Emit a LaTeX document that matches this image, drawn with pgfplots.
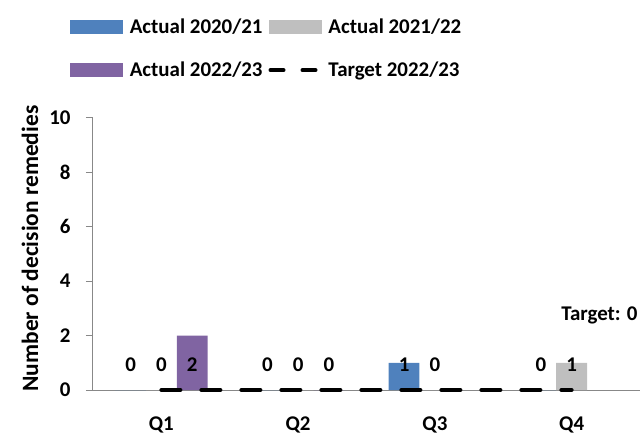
\documentclass[border=0pt]{standalone}
\usepackage{pgfplots}
\pgfplotsset{compat=1.18}
\usepackage{fontspec}
\setmainfont{Carlito}
\definecolor{cblue}{HTML}{4F81BD}
\definecolor{cgray}{HTML}{BFBFBF}
\definecolor{cpurple}{HTML}{8064A2}
\definecolor{axgray}{HTML}{888888}
\newcommand{\cf}{\bfseries\fontsize{21}{25}\selectfont}
\newcommand{\cfl}{\bfseries\fontsize{23.5}{28}\selectfont}
\begin{document}
\begin{tikzpicture}
\path[use as bounding box] (-93bp,-44bp) rectangle (551bp,390bp);
\begin{axis}[
  at={(0,0)}, anchor=south west,
  scale only axis, width=547bp, height=272bp,
  xmin=-0.5, xmax=3.5, ymin=0, ymax=10,
  axis x line*=bottom, axis y line*=left,
  axis line style={draw=axgray, line width=1bp},
  tick align=outside,
  ytick={0,2,...,10},
  xtick={0,1,2,3}, xticklabels={Q1,Q2,Q3,Q4},
  major x tick style={draw=none},
  extra x ticks={-0.5,0.5,1.5,2.5,3.5}, extra x tick labels={},
  extra x tick style={major tick length=7bp, tick style={draw=axgray, line width=1bp}},
  major tick length=7bp,
  tick style={draw=axgray, line width=1bp},
  /pgf/number format/assume math mode=true,
  tick label style={font=\cf},
  xticklabel style={yshift=-16bp},
  yticklabel style={xshift=-12bp},
  ylabel={Number of decision remedies},
  every axis y label/.style={at={(axis description cs:-0.1152,0.52)}, rotate=90, anchor=center, font=\cfl},
  legend columns=2,
  legend style={at={(0.3172,1.255)}, anchor=center, draw=none, fill=none, font=\cf,
    row sep=23bp, /tikz/every even column/.append style={column sep=4bp},
    /tikz/every odd column/.append style={column sep=5bp}},
  legend cell align=left,
  clip=false,
]
\addplot[ybar, bar width=0.225, bar shift=-0.225, fill=cblue, draw=none,
  legend image code/.code={\fill[cblue] (0bp,-7bp) rectangle (53bp,7bp);}]
  coordinates {(0,0) (1,0) (2,1) (3,0)};
\addlegendentry{Actual 2020/21}
\addplot[ybar, bar width=0.225, bar shift=0, fill=cgray, draw=none,
  legend image code/.code={\fill[cgray] (0bp,-7bp) rectangle (53bp,7bp);}]
  coordinates {(0,0) (1,0) (2,0) (3,1)};
\addlegendentry{Actual 2021/22}
\addplot[ybar, bar width=0.225, bar shift=0.225, fill=cpurple, draw=none,
  legend image code/.code={\fill[cpurple] (0bp,-7bp) rectangle (53bp,7bp);}]
  coordinates {(0,2) (1,0)};
\addlegendentry{Actual 2022/23}
\addplot[black, line width=4bp, line cap=round, dash pattern=on 19bp off 21bp, mark=none,
  legend image code/.code={\draw[black, line width=4bp, line cap=round, dash pattern=on 13bp off 19bp] (2bp,0) -- (48bp,0);}]
  coordinates {(0,0) (3,0)};
\addlegendentry{Target 2022/23}
\addplot[only marks, mark=none, forget plot, nodes near coords, point meta=explicit symbolic,
  every node near coord/.style={anchor=center, font=\cf, text=black}]
  coordinates {(-0.225,0.92)[0] (0,0.92)[0] (0.225,0.92)[2]
               (0.775,0.92)[0] (1,0.92)[0] (1.225,0.92)[0]
               (1.775,0.92)[1] (2,0.92)[0]
               (2.775,0.92)[0] (3,0.92)[1]};
\node[anchor=east, font=\cf, inner sep=0pt] at (rel axis cs:0.996,0.276) {Target: 0};
\end{axis}
\end{tikzpicture}
\end{document}
